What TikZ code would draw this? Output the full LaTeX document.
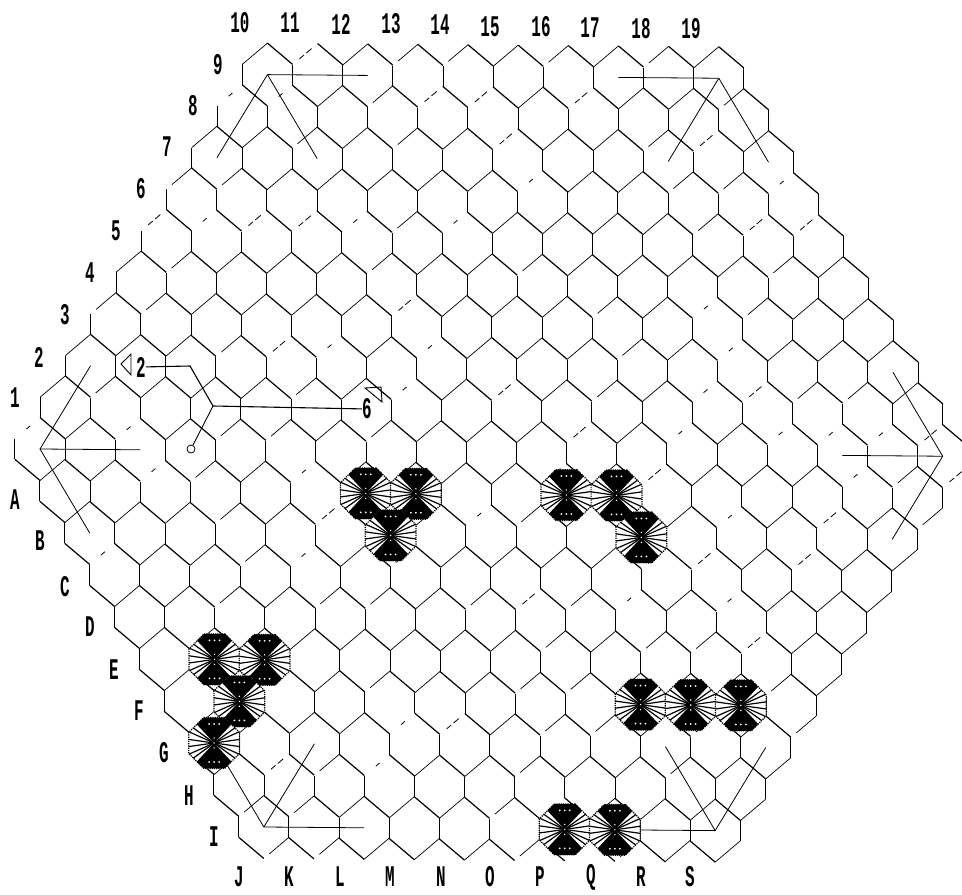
\documentclass[tikz,border=0pt]{standalone}
\usepackage{fontspec}
\usepackage{tikz}
\usetikzlibrary{shapes.geometric}
\newfontfamily\boardfont[FakeStretch=0.53]{Liberation Mono Bold}
\tikzset{
	wall/.style={line width=0.9pt},
	fall/.style={line width=1.2pt},
	rise1/.style={line width=0.7pt},
	rise2/.style={line width=0.7pt, dash pattern=on 0pt off 7pt on 26pt off 10pt},
	rise3/.style={line width=0.8pt, dash pattern=on 0pt off 9pt on 6pt off 3pt on 7pt off 20pt},
	rise4/.style={line width=0.8pt, dash pattern=on 0pt off 15pt on 5pt off 30pt},
	cornerline/.style={line width=0.8pt},
	lab/.style={font=\boardfont\fontsize{30}{30}\selectfont, inner sep=0pt},
	stone/.style={regular polygon, regular polygon sides=8, minimum size=55pt, inner sep=0pt, fill=white, draw=black, line width=1.2pt, densely dotted,
		path picture={
			\fill[black] (path picture bounding box.center) -- ++(47:36) -- ++(-49,0) -- cycle;
			\fill[black] (path picture bounding box.center) -- ++(-47:36) -- ++(-49,0) -- cycle;
			\foreach \ang in {-36,-24,-8,8,24,36} {
				\draw[solid, line width=1.2pt] (path picture bounding box.center) -- ++(\ang:30);
				\draw[solid, line width=1.2pt] (path picture bounding box.center) -- ++(180+\ang:30);
			}
			\foreach \dx in {-5,0,5} {
				\fill[white] ([shift={(\dx,-19)}]path picture bounding box.center) circle (1pt);
				\fill[white] ([shift={(\dx,19)}]path picture bounding box.center) circle (1pt);
			}
			\foreach \dy in {-5,0,5}
				\fill[white] ([shift={(0,\dy)}]path picture bounding box.center) circle (0.8pt);
		}},
}
\begin{document}
\begin{tikzpicture}[x=1pt, y=-1pt]
	\useasboundingbox (0,0) rectangle (962,895);
	\pgfmathsetseed{17}
	% board
	\foreach \row in {-9,...,9} {
		\pgfmathtruncatemacro\rowabs{abs(\row)}
		\pgfmathtruncatemacro\last{18-\rowabs}
		\foreach \col in {0,...,\last} {
			\pgfmathsetmacro\cx{40+25.07*\rowabs+50.15*\col-0.2*\row}
			\pgfmathsetmacro\cy{449+41.8*\row+0.008*(\cx-40)}
			\pgfmathtruncatemacro\pick{random(1,9)}
			\pgfmathtruncatemacro\pickb{\pick<6 ? 1 : (\pick<8 ? 2 : \pick-5)}
			\begin{scope}[shift={(\cx,\cy)}]
				\coordinate (h\row-\col) at (0,0);
				\draw[wall] (-25.07,-10.3) -- (-25.07,10.3);
				\draw[rise\pickb] (-25.07,-10.3) -- (0,-31.5);
				\draw[fall] (0,-31.5) -- (25.07,-10.3);
				\ifnum\col=\last
					\draw[wall] (25.07,-10.3) -- (25.07,10.3);
				\fi
				\ifnum\row>-1
					\ifnum\col=0
						\draw[fall] (-25.07,10.3) -- (0,31.5);
					\else\ifnum\row=9
						\draw[fall] (-25.07,10.3) -- (0,31.5);
					\fi\fi
					\ifnum\col=\last
						\draw[rise\pickb] (0,31.5) -- (25.07,10.3);
					\else\ifnum\row=9
						\draw[rise\pickb] (0,31.5) -- (25.07,10.3);
					\fi\fi
				\fi
			\end{scope}
		}
	}
	% corner marks
	\foreach \apex/\ends in {h-9-0/{h-9-2,h-7-0,h-7-2}, h-9-9/{h-9-7,h-7-9,h-7-11}, h0-0/{h0-2,h-2-0,h2-0}, h0-18/{h0-16,h-2-16,h2-16}, h9-0/{h9-2,h7-0,h7-2}, h9-9/{h9-7,h7-9,h7-11}}
		\foreach \tip in \ends
			\draw[cornerline] (\apex) -- (\tip);
	% stones
	\foreach \spot in {h1-6,h1-7,h2-6,h1-10,h1-11,h2-11,h5-1,h5-2,h6-1,h7-0,h6-9,h6-10,h6-11,h9-6,h9-7}
		\node[stone] (s\spot) at (\spot) {};
	% edge labels
	\foreach \txt/\xx/\yy in {1/15/398,2/39/357,3/65/315,4/90/273,5/116/231,6/141/189,7/167/147,8/193/106,9/218/65,
		10/240/23,11/290/23,12/341/24,13/391/24,14/440/25,15/490/27,16/541/27,17/590/28,18/641/29,19/691/29,
		A/15/500,B/40/541,C/65/587,D/90/627,E/114/670,F/139/711,G/164/753,H/189/796,I/214/837,
		J/239/877,K/289/877,L/340/877,M/390/877,N/441/877,O/490/877,P/540/877,Q/591/877,R/641/877,S/690/877}
		\node[lab] (lab\txt) at (\xx,\yy) {\txt};
	% move lines
	\node[lab] (movea) at (141,367) {2};
	\node[lab] (moveb) at (367,409) {6};
	\node[draw, circle, inner sep=0pt, minimum size=8pt, line width=0.8pt] (ring) at (191,449) {};
	\coordinate (bend) at (190,366);
	\coordinate (fork) at (213,406);
	\draw[line width=1.1pt] (movea) -- (bend) -- (fork) -- (moveb);
	\draw[line width=0.9pt] (fork) -- (ring);
	\draw[line width=0.9pt] (121,364) -- (131,354) -- (131,375) -- cycle;
	\draw[line width=0.9pt] (365,388) -- (381,387) -- (382,402) -- cycle;
\end{tikzpicture}
\end{document}
